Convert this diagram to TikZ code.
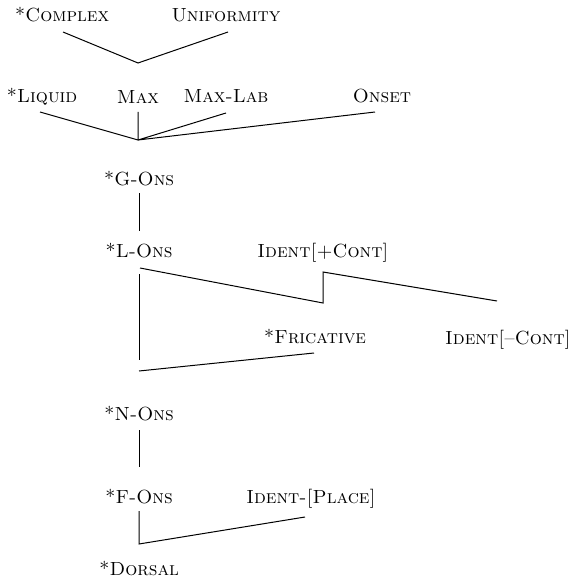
\documentclass[tikz,border=0pt]{standalone}
\usepackage{tikz}

\tikzstyle{con}=[inner sep=0pt, anchor=base, font=\fontsize{19}{21}\selectfont]
\tikzstyle{rank}=[line width=1pt]

\begin{document}
\begin{tikzpicture}[x=1pt, y=-1pt]
      \useasboundingbox (0,0) rectangle (579,580);

      \node[con] (cplx) at (62, 22) {\textsc{*Complex}};
      \node[con] (unif) at (226, 22) {\textsc{Uniformity}};
      \coordinate (j1) at (138, 63);
      \draw[rank] (63, 32) -- (j1) -- (228, 32);

      \node[con] (liq) at (42, 103) {\textsc{*Liquid}};
      \node[con] (max) at (138, 104) {\textsc{Max}};
      \node[con] (mlab) at (226, 103) {\textsc{Max-Lab}};
      \node[con] (ons) at (382, 103) {\textsc{Onset}};
      \coordinate (j2) at (138, 140);
      \draw[rank] (40, 112) -- (j2) -- (138, 112);
      \draw[rank] (226, 113) -- (j2) -- (375, 112);

      \node[con] (gons) at (139, 185) {\textsc{*G-Ons}};
      \node[con] (lons) at (139, 257) {\textsc{*L-Ons}};
      \draw[rank] (139, 193) -- (139, 231);

      \node[con] (idpc) at (323, 257) {\textsc{Ident[+Cont]}};
      \draw[rank] (140, 268) -- (323, 303) -- (323, 272) -- (497, 301);

      \node[con] (fric) at (315, 343) {\textsc{*Fricative}};
      \node[con] (idmc) at (508, 344) {\textsc{Ident[--Cont]}};
      \draw[rank] (139, 274) -- (139, 360);
      \draw[rank] (139, 371) -- (314, 353);

      \node[con] (nons) at (139, 420) {\textsc{*N-Ons}};
      \node[con] (fons) at (139, 503) {\textsc{*F-Ons}};
      \draw[rank] (139, 430) -- (139, 467);

      \node[con] (idpl) at (311, 503) {\textsc{Ident-[Place]}};
      \node[con] (dors) at (139, 575) {\textsc{*Dorsal}};
      \draw[rank] (139, 511) -- (139, 544) -- (305, 517);
    \end{tikzpicture}
\end{document}
